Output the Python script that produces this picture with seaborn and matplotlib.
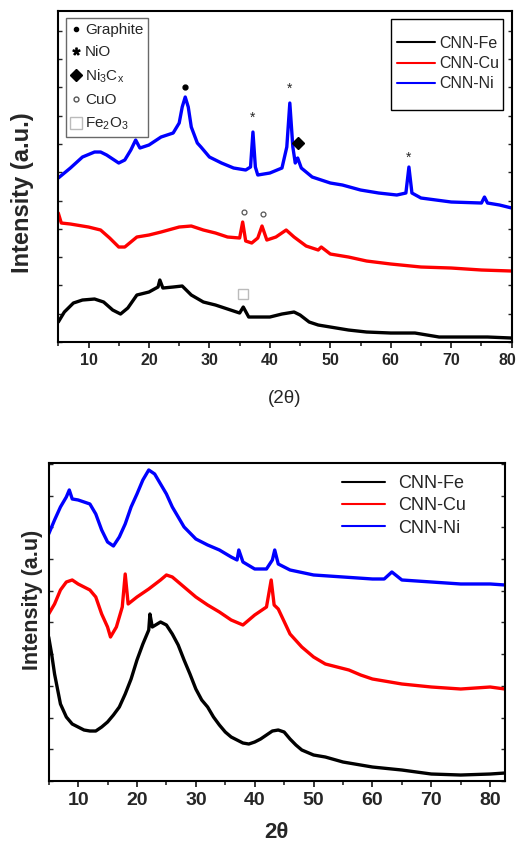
import matplotlib
matplotlib.use("Agg")
import matplotlib.pyplot as plt
from matplotlib.lines import Line2D
from matplotlib.patches import Rectangle
from matplotlib.ticker import MultipleLocator
from matplotlib.transforms import ScaledTranslation
import pandas as pd
import seaborn as sns

# ---------------- panel (a): XRD with phase markers ----------------
A_FE_X = [5, 6, 7.5, 9, 11, 12.5, 14, 15.3, 16.5, 18, 20, 21.5, 21.8, 22.3, 24, 25.5,
          27, 29, 31, 33, 35, 35.6, 36.5, 38, 40, 42, 44, 45, 46.5, 48, 50, 53, 56,
          60, 64, 68, 72, 76, 80]
A_FE_Y = [20, 30, 39, 42, 43, 40, 32, 28, 34, 47, 50, 55, 62, 54, 55, 56,
          47, 40, 37, 33, 29, 35, 25, 25, 25, 28, 30, 27, 20, 17, 15, 12, 10,
          9, 9, 5, 5, 5, 4]

A_CU_X = [5, 5.5, 7, 10, 12, 13.5, 15, 16, 18, 20, 22, 25, 27, 29, 31, 33, 35, 35.5,
          36, 37, 38, 38.7, 39.5, 41, 42.7, 44, 46, 48, 48.5, 50, 53, 56, 60, 65,
          70, 75, 80]
A_CU_Y = [129, 119, 118, 115, 112, 104, 95, 95, 105, 107, 110, 115, 116, 112, 109, 105, 104, 120,
          101, 99, 104, 116, 102, 105, 112, 105, 96, 92, 95, 88, 85, 81, 78, 75,
          74, 72, 71]

A_NI_X = [5, 7, 9, 11, 12, 13, 15, 16, 17, 17.8, 18.5, 20, 22, 24, 25, 25.5, 26, 26.5,
          27, 28, 28.6, 30, 32, 34, 36, 36.8, 37.2, 37.6, 38, 40, 42, 42.8, 43.3,
          43.8, 44.2, 44.6, 45.2, 47, 50, 52, 55, 58, 61, 62.5, 63, 63.5, 65, 70,
          75, 75.5, 76, 78, 80]
A_NI_Y = [164, 174, 185, 190, 190, 187, 179, 182, 192, 202, 194, 197, 205, 209, 219, 235, 245, 235,
          215, 199, 195, 185, 179, 174, 172, 175, 210, 175, 167, 169, 174, 195, 239,
          195, 179, 184, 174, 165, 159, 157, 152, 149, 147, 149, 175, 149, 144, 140,
          139, 145, 139, 137, 134]

# phase marker positions (2theta, intensity)
GRAPHITE_XY = [(26.0, 255)]
NIO_XY = [(37.2, 224), (43.3, 253), (63.0, 184)]
NI3CX_XY = [(44.6, 199)]
CUO_XY = [(35.7, 130), (38.8, 128)]
FE2O3_XY = [(35.6, 48)]

# ---------------- panel (b): XRD ----------------
B_FE_X = [5, 5.5, 6, 7, 8, 9, 10, 11, 12, 13, 14, 15, 16, 17, 18, 19, 20, 21, 22, 22.2,
          22.6, 24, 25, 26, 27, 28, 29, 30, 31, 32, 33, 34, 35, 36, 37, 38, 39, 40,
          41, 42, 43, 44, 45, 46, 47, 48, 50, 52, 55, 58, 60, 65, 70, 75, 80, 82.5]
B_FE_Y = [144, 127, 107, 77, 64, 57, 54, 51, 50, 50, 54, 59, 66, 74, 87, 102, 121, 137, 151, 167,
          154, 159, 156, 147, 136, 121, 107, 92, 81, 74, 64, 56, 49, 44, 41, 38, 37, 39,
          42, 46, 50, 51, 49, 42, 36, 31, 26, 24, 19, 16, 14, 11, 7, 6, 7, 8]

B_CU_X = [5, 6, 7, 8, 9, 10, 11, 12, 13, 14, 15, 15.5, 16.5, 17.5, 18, 18.5, 20, 22, 24,
          25, 26, 28, 30, 32, 34, 36, 38, 40, 42, 42.8, 43.3, 44, 46, 48, 50, 52, 54,
          56, 58, 60, 65, 70, 75, 80, 82.5]
B_CU_Y = [167, 177, 191, 199, 201, 197, 194, 191, 184, 167, 154, 144, 154, 174, 207, 177, 184, 192, 201,
          206, 204, 194, 184, 176, 169, 161, 156, 166, 174, 201, 176, 172, 147, 134, 124, 117, 114,
          111, 106, 102, 97, 94, 92, 94, 92]

B_NI_X = [5, 6, 7, 8, 8.5, 9, 10, 11, 12, 13, 14, 15, 16, 17, 18, 19, 20, 21, 22, 23, 24,
          25, 26, 27, 28, 30, 32, 34, 36, 37, 37.3, 38, 40, 42, 43, 43.4, 44, 46, 50,
          55, 60, 62, 63.3, 65, 70, 75, 80, 82.5]
B_NI_Y = [247, 261, 274, 284, 291, 282, 281, 279, 277, 267, 251, 239, 235, 244, 257, 274, 287, 301, 311, 307, 297,
          287, 274, 264, 254, 242, 236, 231, 224, 221, 231, 219, 212, 212, 221, 231, 217, 211, 206,
          204, 202, 202, 209, 201, 199, 197, 197, 196]

SAMPLES = ["CNN-Fe", "CNN-Cu", "CNN-Ni"]
COLORS = {"CNN-Fe": "black", "CNN-Cu": "#ff0000", "CNN-Ni": "#0000ff"}


def tabla(series):
    filas = []
    for name, xs, ys in series:
        filas.append(pd.DataFrame({"theta": xs, "intensity": ys, "sample": name}))
    return pd.concat(filas, ignore_index=True)


sns.set_style("ticks")
plt.rcParams["font.family"] = ["Liberation Sans", "DejaVu Sans"]
plt.rcParams["mathtext.fontset"] = "custom"
plt.rcParams["mathtext.rm"] = "Liberation Sans"
plt.rcParams["mathtext.it"] = "Liberation Sans"

fig = plt.figure(figsize=(5.19, 8.47), dpi=100)
ax1 = fig.add_axes([0.1123, 0.5962, 0.8736, 0.3908])
ax2 = fig.add_axes([0.0938, 0.0779, 0.8790, 0.3755])

df_a = tabla([("CNN-Fe", A_FE_X, A_FE_Y), ("CNN-Cu", A_CU_X, A_CU_Y), ("CNN-Ni", A_NI_X, A_NI_Y)])
df_b = tabla([("CNN-Fe", B_FE_X, B_FE_Y), ("CNN-Cu", B_CU_X, B_CU_Y), ("CNN-Ni", B_NI_X, B_NI_Y)])

for ax, df, tsize in ((ax1, df_a, 11.5), (ax2, df_b, 14)):
    sns.lineplot(data=df, x="theta", y="intensity", hue="sample", hue_order=SAMPLES,
                 palette=COLORS, estimator=None, sort=False, linewidth=2.4, ax=ax,
                 legend=False)
    for s in ax.spines.values():
        s.set_linewidth(1.5)
        s.set_color("black")
    ax.xaxis.set_major_locator(MultipleLocator(10))
    ax.xaxis.set_minor_locator(MultipleLocator(5))
    ax.tick_params(axis="x", which="major", direction="out", length=4, width=1.3,
                   labelsize=tsize, pad=4)
    ax.tick_params(axis="x", which="minor", direction="out", length=3, width=1.2)
    ax.tick_params(axis="y", which="major", left=True, right=True, direction="in",
                   length=3, width=1.0)

# ---- panel (a) styling
ax1.set_xlim(5, 80)
ax1.set_ylim(0, 331)
ax1.yaxis.set_major_locator(MultipleLocator(28.3))
ax1.set_yticklabels([])
ax1.set_xticks(range(10, 81, 10))
ax1.set_xticklabels([str(v) for v in range(10, 81, 10)])
labs = ax1.get_xticklabels()
for lab in labs:
    lab.set_fontweight("bold")
labs[-1].set_transform(labs[-1].get_transform()
                       + ScaledTranslation(-3 / 72, 0, fig.dpi_scale_trans))
ax1.set_xlabel("(2θ)", fontsize=13.5, labelpad=16)
ax1.set_ylabel("Intensity (a.u.)", fontsize=17, fontweight="bold")
ax1.yaxis.set_label_coords(-0.054, 0.45)

for x, y in GRAPHITE_XY:
    ax1.plot(x, y, "o", color="black", markersize=3.5)
for x, y in NIO_XY:
    ax1.text(x, y, "*", ha="center", va="center", fontsize=10)
for x, y in NI3CX_XY:
    ax1.plot(x, y, "D", color="black", markersize=6)
for x, y in CUO_XY:
    ax1.plot(x, y, "o", mfc="none", mec="#555555", markersize=3.5, mew=0.9)
for x, y in FE2O3_XY:
    ax1.plot(x, y, "s", mfc="none", mec="#bbbbbb", markersize=7, mew=1.0)

curve_handles = [Line2D([], [], color=COLORS[s], lw=1.5) for s in SAMPLES]
leg1 = ax1.legend(curve_handles, SAMPLES, loc="upper right",
                  bbox_to_anchor=(0.972, 0.925), borderaxespad=0, fontsize=11.5,
                  frameon=False, handlelength=2.4, handletextpad=0.25,
                  labelspacing=0.33, borderpad=0.0)
ax1.add_artist(leg1)
ax1.add_patch(Rectangle((0.734, 0.701), 0.247, 0.275, transform=ax1.transAxes,
                        fill=False, edgecolor="black", linewidth=1.0, zorder=5))

phase_handles = [
    Line2D([], [], ls="none", marker="o", color="black", markersize=3),
    Line2D([], [], ls="none", marker="$*$", color="black", markersize=5),
    Line2D([], [], ls="none", marker="D", color="black", markersize=6),
    Line2D([], [], ls="none", marker="o", mfc="none", mec="#555555", markersize=3.5),
    Line2D([], [], ls="none", marker="s", mfc="none", mec="#bbbbbb", markersize=8),
]
phase_labels = ["Graphite", "NiO", r"Ni$_3$C$_x$", "CuO", r"Fe$_2$O$_3$"]
leg2 = ax1.legend(phase_handles, phase_labels, loc="upper left",
                  bbox_to_anchor=(0.018, 0.978), borderaxespad=0, fontsize=11,
                  frameon=True, fancybox=False, edgecolor="#444444", handlelength=0.6,
                  handletextpad=0.3, labelspacing=0.55, borderpad=0.3)
leg2.get_frame().set_linewidth(1.0)

# ---- panel (b) styling
ax2.set_xlim(5, 82.5)
ax2.set_ylim(0, 318)
ax2.yaxis.set_major_locator(MultipleLocator(31.7))
ax2.set_yticklabels([])
for lab in ax2.get_xticklabels():
    lab.set_fontweight("bold")
ax2.set_xlabel("2θ", fontsize=16, fontweight="bold", labelpad=9)
ax2.set_ylabel("Intensity (a.u)", fontsize=15.5, fontweight="bold")
ax2.yaxis.set_label_coords(-0.012, 0.57)
ax2.legend(curve_handles, SAMPLES, loc="upper right", bbox_to_anchor=(0.93, 0.985),
           borderaxespad=0, fontsize=13, frameon=False, handlelength=2.4,
           handletextpad=0.7, labelspacing=0.3)

fig.savefig("out.png", dpi=100)
